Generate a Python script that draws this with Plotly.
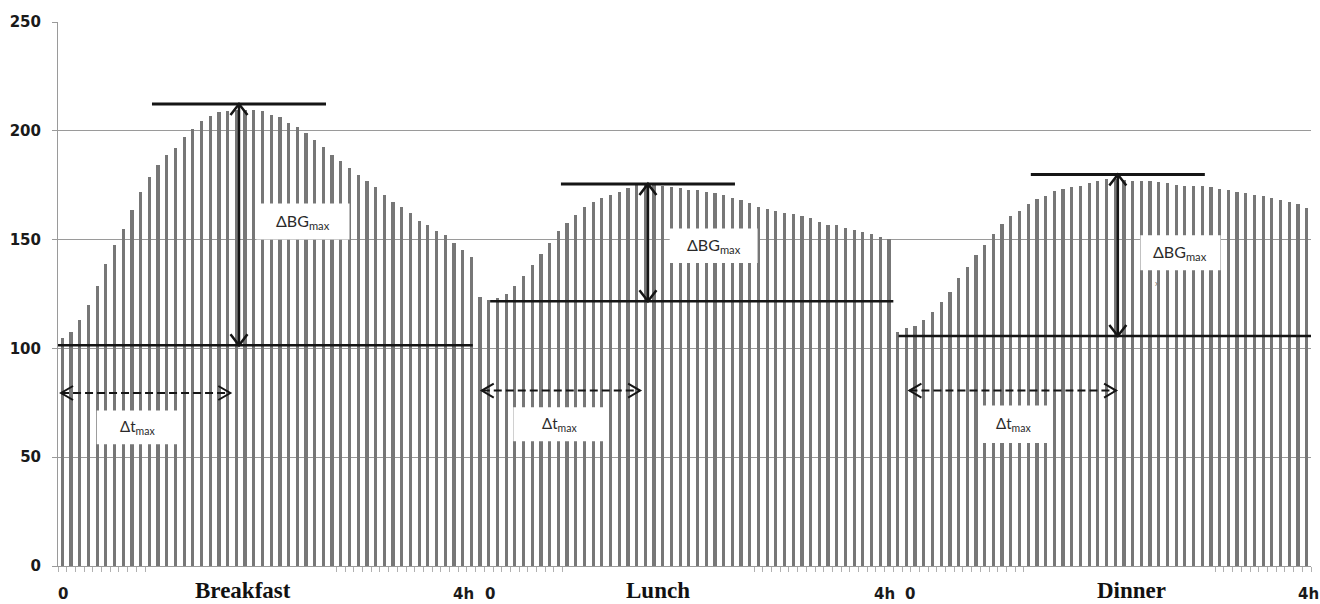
import numpy as np
import plotly.graph_objects as go

# ---------------- data (mg/dL, 5-min samples over 4 h per meal) ----------------
meals = ["Breakfast", "Lunch", "Dinner"]
breakfast = [104.6, 107.7, 113.2, 120.0, 128.7, 138.8, 147.3, 155.1, 163.7, 171.8,
             178.8, 184.5, 189.0, 192.2, 197.0, 200.8, 204.3, 206.8, 208.5, 209.2,
             209.6, 209.5, 209.4, 208.9, 207.1, 206.2, 203.7, 201.9, 199.0, 195.6,
             192.6, 189.0, 186.0, 183.1, 179.8, 177.0, 174.1, 170.7, 167.4, 165.0,
             162.0, 158.6, 156.7, 154.0, 152.0, 148.3, 145.4, 142.0]
lunch = [123.6, 122.1, 123.2, 125.2, 128.6, 133.2, 138.5, 143.3, 148.5, 154.0,
         157.7, 161.1, 164.8, 167.3, 168.9, 170.4, 171.9, 173.6, 175.0, 175.3,
         175.0, 174.7, 174.3, 173.7, 173.0, 172.6, 172.1, 171.2, 170.5, 169.0,
         168.1, 166.7, 165.2, 163.9, 163.1, 162.3, 161.7, 161.0, 159.7, 158.0,
         156.7, 156.5, 155.3, 154.3, 153.5, 152.5, 151.2, 150.5]
dinner = [107.7, 109.5, 110.3, 113.0, 116.9, 121.2, 126.1, 132.3, 137.6, 142.7,
          147.5, 152.4, 157.2, 161.0, 163.3, 166.3, 168.6, 170.1, 172.2, 173.4,
          174.3, 174.8, 176.0, 177.1, 177.7, 178.0, 177.5, 177.1, 176.9, 176.9,
          176.3, 175.8, 175.1, 174.6, 174.5, 174.7, 174.3, 173.3, 173.0, 172.0,
          171.4, 170.7, 170.2, 169.3, 168.3, 167.3, 166.3, 164.6]
baseline_bg = [101.4, 121.7, 105.7]     # pre-meal reference level
peak_line_bg = [212.3, 175.6, 179.9]    # level of the peak marker line
y_ticks = [0, 50, 100, 150, 200, 250]
start_label = "0"
end_label = "4h"

# ---------------- annotation layout (category units local to each meal) ----------------
baseline_span = [(-0.5, 47.17), (1.16, 47.5), (0.1, 47.6)]
dash_y = [79.5, 80.6, 80.6]
dash_span = [(-0.15, 19.3), (0.2, 18.4), (1.35, 25.1)]
dbg_box = [(22.3, 33.0, 150.0, 166.6), (21.8, 31.9, 139.3, 155.1), (27.9, 37.1, 135.9, 152.0)]
dt_box = [(3.95, 13.33, 55.9, 71.5), (3.83, 14.37, 57.3, 73.0), (9.36, 17.33, 56.5, 73.8)]
lbl_zero = [0.07, 1.16, 1.4]
lbl_end = [46.05, 46.44, 47.2]
lbl_name = [20.76, 20.47, 26.9]
tick_gaps = [(11, 31), (59, 79), (112, 132)]

series = [breakfast, lunch, dinner]
n = len(breakfast)
values = np.concatenate(series)
xs = np.arange(len(values))

W, H = 1320, 604
ML, MR, MT, MB = 58, 9, 22, 38
pw, ph = W - ML - MR, H - MT - MB
px_x = pw / len(values)          # pixels per category
px_y = ph / (y_ticks[-1] - y_ticks[0])

fig = go.Figure()
fig.add_trace(go.Bar(x=xs, y=values, width=0.37, marker=dict(color="#777777", line=dict(width=0)),
                     hoverinfo="y", showlegend=False))

shapes = []
annots = []
INK = "#151515"

def seg(x0, y0, x1, y1, w=2.5, dash=None):
    d = dict(type="line", xref="x", yref="y", x0=x0, y0=y0, x1=x1, y1=y1, layer="above",
             line=dict(color=INK, width=w))
    if dash:
        d["line"]["dash"] = dash
    return d

def path(pts, w=2.5):
    p = "M " + " L ".join(f"{x:.4f},{y:.4f}" for x, y in pts)
    return dict(type="path", xref="x", yref="y", path=p, layer="above",
                line=dict(color=INK, width=w))

# white label boxes first
for m in range(3):
    o = m * n
    for (a, b, c, d) in (dbg_box[m], dt_box[m]):
        shapes.append(dict(type="rect", xref="x", yref="y", x0=o + a, x1=o + b, y0=c, y1=d,
                           fillcolor="white", line=dict(width=0), layer="above"))

for m in range(3):
    o = m * n
    pk = int(np.argmax(series[m])) + 0.3
    xa = o + pk
    yb, yt = baseline_bg[m], peak_line_bg[m]
    # peak line and baseline
    shapes.append(seg(xa - 10, yt, xa + 10, yt, w=3))
    shapes.append(seg(o + baseline_span[m][0], yb, o + baseline_span[m][1], yb, w=2.5))
    # vertical double arrow
    shapes.append(seg(xa, yb, xa, yt, w=2.5))
    hx, hy = 8.5 / px_x, 11 / px_y
    shapes.append(path([(xa - hx, yt - hy), (xa, yt), (xa + hx, yt - hy)]))
    shapes.append(path([(xa - hx, yb + hy), (xa, yb), (xa + hx, yb + hy)]))
    # dashed time arrow
    x0, x1 = o + dash_span[m][0], o + dash_span[m][1]
    yd = dash_y[m]
    shapes.append(seg(x0, yd, x1, yd, w=2, dash="8px,4px"))
    lx, ly = 12 / px_x, 7 / px_y
    shapes.append(path([(x0 + lx, yd + ly), (x0, yd), (x0 + lx, yd - ly)], w=2))
    shapes.append(path([(x1 - lx, yd + ly), (x1, yd), (x1 - lx, yd - ly)], w=2))

    # label texts
    a, b, c, d = dbg_box[m]
    annots.append(dict(x=o + (a + b) / 2, y=(c + d) / 2, xref="x", yref="y",
                       text="ΔBG<sub>max</sub>", showarrow=False,
                       font=dict(family="Lato", size=16, color="#2a2a2a")))
    a, b, c, d = dt_box[m]
    annots.append(dict(x=o + (a + b) / 2, y=(c + d) / 2, xref="x", yref="y",
                       text="Δt<sub>max</sub>", showarrow=False,
                       font=dict(family="Lato", size=15, color="#2a2a2a")))
    # bottom labels
    annots.append(dict(x=o + lbl_zero[m], y=-(594 - (H - MB)) / ph, xref="x", yref="paper",
                       text=start_label, showarrow=False, yanchor="middle",
                       font=dict(family="DejaVu Sans", size=15, color="#1a1a1a", weight="bold")))
    annots.append(dict(x=o + lbl_end[m], y=-(594 - (H - MB)) / ph, xref="x", yref="paper",
                       text=end_label, showarrow=False, yanchor="middle",
                       font=dict(family="DejaVu Sans", size=15, color="#1a1a1a", weight="bold")))
    annots.append(dict(x=o + lbl_name[m], y=-(590.5 - (H - MB)) / ph, xref="x", yref="paper",
                       text=meals[m], showarrow=False, yanchor="middle",
                       font=dict(family="Liberation Serif", size=23, color="#111111", weight="bold")))

# stray mark in dinner panel
annots.append(dict(x=2 * n + 29.8, y=129.9, xref="x", yref="y", text="x", showarrow=False,
                   font=dict(family="Lato", size=8, color="#777777")))

# category-boundary tick marks (hidden where label boxes covered them)
tickvals = []
for k in range(len(values) + 1):
    if any(g0 <= k <= g1 for g0, g1 in tick_gaps):
        continue
    tickvals.append(k - 0.5)

fig.update_layout(
    width=W, height=H,
    margin=dict(l=ML, r=MR, t=MT, b=MB),
    paper_bgcolor="white", plot_bgcolor="white",
    bargap=0, shapes=shapes, annotations=annots,
    xaxis=dict(range=[-0.5, len(values) - 0.5], showgrid=False, zeroline=False,
               showline=True, linecolor="#9a9a9a", linewidth=1,
               tickmode="array", tickvals=tickvals, ticks="outside", ticklen=5,
               tickcolor="#b0b0b0", tickwidth=1, showticklabels=False),
    yaxis=dict(range=[y_ticks[0], y_ticks[-1]], tickmode="array", tickvals=y_ticks,
               showgrid=True, gridcolor="#9a9a9a", gridwidth=1, zeroline=False,
               showline=True, linecolor="#9a9a9a", linewidth=1,
               ticks="outside", ticklen=5, tickcolor="#9a9a9a", ticklabelstandoff=8,
               tickfont=dict(family="DejaVu Sans", size=15, color="#1a1a1a", weight="bold")),
)

fig.write_html("out.html",
               config={"displayModeBar": False},
               post_script="document.body.style.margin='0';document.body.style.padding='0';"
                           "document.body.style.overflow='hidden';")
